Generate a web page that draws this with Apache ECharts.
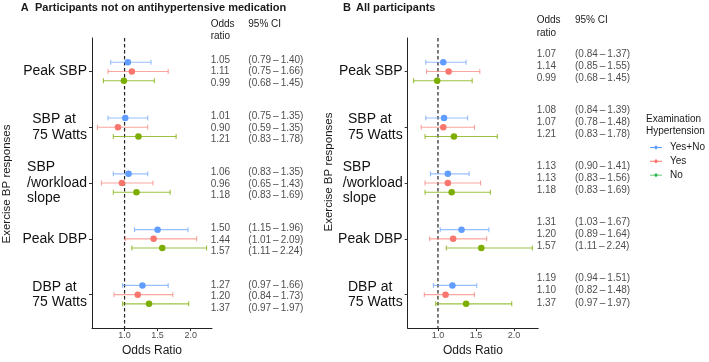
<!DOCTYPE html>
<html><head><meta charset="utf-8">
<script src="https://cdn.jsdelivr.net/npm/echarts@6/dist/echarts.min.js"></script>
<style>html,body{margin:0;padding:0;background:#fff}#c{width:709px;height:362px}</style>
</head><body><div id="c"></div>
<script>
const categories = ['Peak SBP', 'SBP at\n75 Watts', 'SBP\n/workload\nslope', 'Peak DBP', 'DBP at\n75 Watts'];
const groups = ['Yes+No', 'Yes', 'No'];
const xTicks = [1.0, 1.5, 2.0];
const refValue = 1;

// Panel A: Participants not on antihypertensive medication
const A_or_yesno = [1.05, 1.01, 1.06, 1.50, 1.27];
const A_lo_yesno = [0.79, 0.75, 0.83, 1.15, 0.97];
const A_hi_yesno = [1.40, 1.35, 1.35, 1.96, 1.66];
const A_or_yes = [1.11, 0.90, 0.96, 1.44, 1.20];
const A_lo_yes = [0.75, 0.59, 0.65, 1.01, 0.84];
const A_hi_yes = [1.66, 1.35, 1.43, 2.09, 1.73];
const A_or_no = [0.99, 1.21, 1.18, 1.57, 1.37];
const A_lo_no = [0.68, 0.83, 0.83, 1.11, 0.97];
const A_hi_no = [1.45, 1.78, 1.69, 2.24, 1.97];

// Panel B: All participants
const B_or_yesno = [1.07, 1.08, 1.13, 1.31, 1.19];
const B_lo_yesno = [0.84, 0.84, 0.90, 1.03, 0.94];
const B_hi_yesno = [1.37, 1.39, 1.41, 1.67, 1.51];
const B_or_yes = [1.14, 1.07, 1.13, 1.20, 1.10];
const B_lo_yes = [0.85, 0.78, 0.83, 0.89, 0.82];
const B_hi_yes = [1.55, 1.48, 1.56, 1.64, 1.48];
const B_or_no = [0.99, 1.21, 1.18, 1.57, 1.37];
const B_lo_no = [0.68, 0.83, 0.83, 1.11, 0.97];
const B_hi_no = [1.45, 1.78, 1.69, 2.24, 1.97];

const FONT = '"Liberation Sans", Arial, Helvetica, sans-serif';
const colors = ['#619CFF', '#F8766D', '#7CAE00'];
const barColors = ['rgba(97,156,255,0.65)', 'rgba(248,118,109,0.65)', 'rgba(124,174,0,0.75)'];
const legendColors = ['#619CFF', '#F8766D', '#2DB84A'];
const dodge = 0.165;

const panels = [
  {or: [A_or_yesno, A_or_yes, A_or_no], lo: [A_lo_yesno, A_lo_yes, A_lo_no], hi: [A_hi_yesno, A_hi_yes, A_hi_no],
   plot: {left: 92, top: 38, width: 120, height: 292}, xmin: 0.5075, xmax: 2.3225,
   table: {left: 210.7, top: 38, width: 37.6, height: 292}, tShift: 0, tOff: 0.205},
  {or: [B_or_yesno, B_or_yes, B_or_no], lo: [B_lo_yesno, B_lo_yes, B_lo_no], hi: [B_hi_yesno, B_hi_yes, B_hi_no],
   plot: {left: 407.7, top: 38, width: 130.5, height: 291}, xmin: 0.602, xmax: 2.318,
   table: {left: 536.7, top: 38, width: 38.3, height: 292}, tShift: -0.1, tOff: 0.215}
];

const grid = [], xAxis = [], yAxis = [], series = [];
panels.forEach((p, pi) => {
  const gPlot = grid.length;
  grid.push(p.plot);
  grid.push(p.table);
  xAxis.push({
    gridIndex: gPlot, type: 'value', min: p.xmin, max: p.xmax,
    name: 'Odds Ratio', nameLocation: 'middle', nameGap: 16,
    nameTextStyle: {fontFamily: FONT, fontSize: 12, color: '#1a1a1a'},
    axisLine: {show: true, onZero: false, lineStyle: {color: '#222', width: 1}},
    axisTick: {show: true, length: 3, lineStyle: {color: '#333'}, customValues: xTicks},
    axisLabel: {fontFamily: FONT, fontSize: 9, color: '#4d4d4d', margin: 3, customValues: xTicks,
      formatter: v => v.toFixed(1)},
    splitLine: {show: false}
  });
  xAxis.push({gridIndex: gPlot + 1, type: 'value', min: 0, max: 1, show: false});
  yAxis.push({
    gridIndex: gPlot, type: 'value', min: 0.4, max: 5.6, inverse: true,
    axisLine: {show: true, lineStyle: {color: '#222', width: 1}},
    axisTick: {show: true, length: 3, lineStyle: {color: '#333'}, customValues: [1, 2, 3, 4, 5]},
    axisLabel: {
      customValues: [1, 2, 3, 4, 5], margin: 5, fontFamily: FONT, fontSize: 14, color: '#111',
      formatter: v => {
        const c = categories[Math.round(v) - 1] || '';
        return c.split('\n').map(s => '{l|' + s + '}').join('\n');
      },
      rich: {l: {align: 'left', fontFamily: FONT, fontSize: 14, color: '#111', lineHeight: 15.5}}
    },
    splitLine: {show: false}
  });
  yAxis.push({gridIndex: gPlot + 1, type: 'value', min: 0.4, max: 5.6, inverse: true, show: false});
  const xi = gPlot, yi = gPlot;

  // reference dashed line at OR = 1
  series.push({
    type: 'custom', xAxisIndex: xi, yAxisIndex: yi, silent: true, z: 1,
    data: [[refValue]],
    renderItem: (params, api) => {
      const cs = params.coordSys;
      const x = api.coord([api.value(0), 1])[0];
      return {type: 'line', shape: {x1: x, y1: cs.y, x2: x, y2: cs.y + cs.height},
        style: {stroke: '#222', lineWidth: 1.2, lineDash: [3.5, 2.5]}};
    }
  });

  groups.forEach((g, gi) => {
    const yOff = (gi - 1) * dodge;
    series.push({
      type: 'custom', xAxisIndex: xi, yAxisIndex: yi, silent: true, z: 2,
      data: p.or[gi].map((v, i) => [i + 1 + yOff, p.lo[gi][i], p.hi[gi][i]]),
      encode: {x: [1, 2], y: 0},
      renderItem: (params, api) => {
        const a = api.coord([api.value(1), api.value(0)]);
        const b = api.coord([api.value(2), api.value(0)]);
        const h = 2.5;
        const st = {stroke: barColors[gi], lineWidth: 1.1};
        return {type: 'group', children: [
          {type: 'line', shape: {x1: a[0], y1: a[1], x2: b[0], y2: b[1]}, style: st},
          {type: 'line', shape: {x1: a[0], y1: a[1] - h, x2: a[0], y2: a[1] + h}, style: st},
          {type: 'line', shape: {x1: b[0], y1: b[1] - h, x2: b[0], y2: b[1] + h}, style: st}
        ]};
      }
    });
    series.push({
      type: 'scatter', name: g, xAxisIndex: xi, yAxisIndex: yi, z: 3,
      symbol: 'circle', symbolSize: 6.5, itemStyle: {color: colors[gi], opacity: 1},
      data: p.or[gi].map((v, i) => [v, i + 1 + yOff])
    });
    const tY = (i) => i + 1 + p.tShift + (gi - 1) * p.tOff;
    series.push({
      type: 'scatter', xAxisIndex: xi + 1, yAxisIndex: yi + 1, silent: true,
      symbolSize: 0,
      label: {show: true, position: 'right', distance: 0, formatter: '{b}',
        fontFamily: FONT, fontSize: 10, color: '#1a1a1a'},
      data: p.or[gi].map((v, i) => ({name: v.toFixed(2), value: [0, tY(i)]}))
        .concat(p.or[gi].map((v, i) => ({
          name: '(' + p.lo[gi][i].toFixed(2) + '\u2009\u2013\u2009' + p.hi[gi][i].toFixed(2) + ')',
          value: [1, tY(i)]})))
    });
  });
});

const txt = (t, x, y, size, weight, extra) => Object.assign({
  type: 'text', x: x, y: y,
  style: {text: t, fontFamily: FONT, fontSize: size, fontWeight: weight || 'normal', fill: '#1a1a1a',
    verticalAlign: 'middle', align: 'left'}
}, extra || {});
const vtxt = (t, x, y) => ({
  type: 'text', x: x, y: y, rotation: Math.PI / 2,
  style: {text: t, fontFamily: FONT, fontSize: 11.5, fill: '#1a1a1a', verticalAlign: 'middle', align: 'center'}
});

const graphic = [
  txt('A', 20.7, 7.5, 11, 'bold'),
  txt('Participants not on antihypertensive medication', 35, 7.5, 11, 'bold'),
  txt('B', 343, 7.5, 11, 'bold'),
  txt('All participants', 356, 7.5, 11, 'bold'),
  txt('Odds', 210.7, 24, 10), txt('ratio', 210.7, 36, 10), txt('95% CI', 248.3, 24, 10),
  txt('Odds', 536.7, 20.7, 10), txt('ratio', 536.7, 33.3, 10), txt('95% CI', 575, 20.7, 10),
  txt('Examination', 646, 119, 10), txt('Hypertension', 646, 131.7, 10),
  vtxt('Exercise BP responses', 7, 184),
  vtxt('Exercise BP responses', 329, 172)
];

const chart = echarts.init(document.getElementById('c'), null, {renderer: 'canvas'});
chart.setOption({
  animation: false,
  backgroundColor: '#fff',
  grid: grid,
  xAxis: xAxis,
  yAxis: yAxis,
  legend: {
    orient: 'vertical', left: 650, top: 142.5, padding: 0, itemWidth: 12, itemHeight: 6, itemGap: 3.8,
    icon: 'path://M0,4.6L3.9,4.6L5.5,3L7.1,4.6L11,4.6L11,5.4L7.1,5.4L5.5,7L3.9,5.4L0,5.4Z',
    textStyle: {fontFamily: FONT, fontSize: 10, color: '#1a1a1a', padding: [0, 0, 0, 3]},
    data: groups.map((g, i) => ({name: g, itemStyle: {color: legendColors[i]}}))
  },
  graphic: graphic,
  series: series
});
</script>
</body></html>
